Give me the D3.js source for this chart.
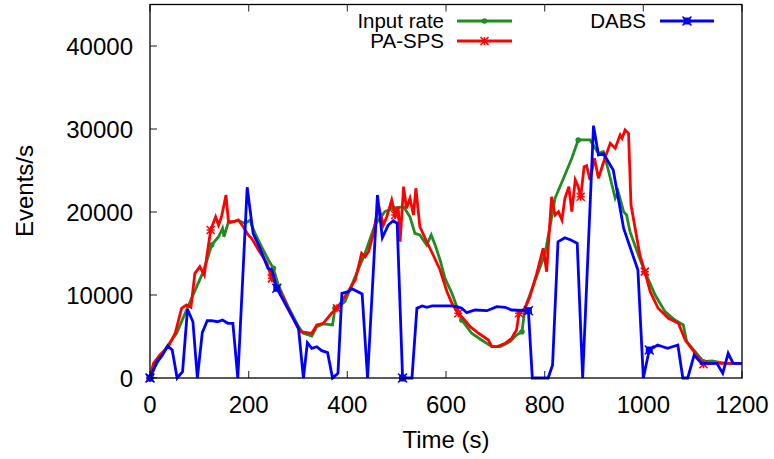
<!DOCTYPE html>
<html>
<head>
<meta charset="utf-8">
<script src="https://cdn.jsdelivr.net/npm/d3@7"></script>
<style>
  body { margin: 0; background: #fff; }
  text { font-family: "Liberation Sans", Arial, sans-serif; fill: #000; }
</style>
</head>
<body>
<div id="chart"></div>
<script>
// Data (time in s, rate in events/s)
var inputT = [0,10,34,54,74,108,125,139,147,150,158,169,179,193,203,206,213,226,240,250,260,280,301,311,328,338,351,370,375,395,416,436,456,476,493,514,527,537,547,561,570,578,588,598,612,632,652,672,693,710,730,743,754,760,781,801,821,841,855,868,892,909,919,929,943,949,960,966,973,990,1003,1024,1044,1064,1081,1088,1105,1122,1139,1166,1200];
var inputV = [0,1360,3770,5390,8190,12810,16020,17020,18040,17020,18640,18830,18950,18640,19040,18430,17430,15820,14220,13220,11210,8590,6180,5390,5060,6180,6510,6390,8400,9190,12210,15020,18430,20040,20450,20640,19430,17430,17230,16020,17230,16020,14220,12000,10210,6990,5390,4580,3770,3770,4370,5180,5580,8400,11810,15020,21650,24460,26470,28680,28680,27070,27270,25060,21650,22450,20040,19640,17630,14820,12810,10000,7990,6990,6390,4370,3170,1960,2050,1770,1770];

var spsT = [0,7,20,37,51,64,74,83,91,101,110,115,123,133,139,145,154,159,169,179,189,199,206,220,237,247,260,304,328,338,351,368,379,395,416,429,436,443,453,463,473,480,490,497,503,507,514,520,527,534,539,547,561,574,588,602,612,625,635,649,666,686,693,703,720,733,743,748,760,770,784,797,804,814,821,828,835,841,849,855,862,868,873,880,885,892,901,909,922,933,943,953,957,963,970,975,987,993,1003,1014,1030,1051,1071,1085,1105,1122,1139,1200];
var spsV = [0,1770,2770,3770,5390,8400,8800,8520,12610,13410,12410,14610,17830,19430,18430,19430,22050,18830,18830,19040,18230,17230,16830,15420,13820,12010,10810,5580,5390,6390,6590,7800,8400,9800,11810,15020,14610,15220,17430,20840,18430,19430,21450,19640,20640,16420,23050,20450,21650,19640,22860,18230,16420,14820,13010,10400,9000,7800,7190,6180,5390,4580,3770,3770,4180,4780,5780,7800,8400,9800,12610,15630,12810,21840,19640,20040,19040,21650,23050,20040,23860,23050,21840,25460,25580,23860,26470,24060,26470,28280,27680,29280,28880,29880,29480,20840,16830,14820,12810,10400,8400,7190,6590,4580,2980,1650,1770,1770];

var dabsT = [0,14,24,36,45,55,66,76,87,96,106,116,125,137,147,158,168,178,197,209,223,239,247,257,301,311,319,328,338,348,360,370,381,389,402,409,430,441,461,471,483,493,501,512,531,541,552,561,572,608,622,632,642,659,683,703,720,733,767,775,807,816,827,841,853,866,877,899,909,919,939,960,989,1000,1012,1029,1049,1070,1080,1090,1103,1118,1149,1161,1172,1182,1200];
var dabsV = [0,1960,2650,3860,3370,0,760,8280,6780,0,5460,6900,6900,6780,6990,6590,6590,0,22980,17430,15630,13220,13010,10810,5990,0,4250,3580,3770,3290,3050,0,570,10200,10400,10760,10120,0,22050,16900,18430,18950,18640,0,0,8400,8680,8520,8680,8680,8590,8400,7870,8190,8110,8590,8520,8190,8110,0,0,1570,16420,16900,16630,16230,0,30400,26870,27070,25060,18040,13010,0,3370,3980,3580,3980,0,0,2770,1770,1770,570,2980,1770,1770];

var xTicks = [0,200,400,600,800,1000,1200];
var yTicks = [0,10000,20000,30000,40000];
var pointTimes = [0,125,250,375,500,625,750,875,1000,1125];
var dabsPointTimes = [0,255,510,765,1012];

var w = 774, h = 459;
var svg = d3.select("#chart").append("svg")
  .attr("width", w)
  .attr("height", h);

var x = d3.scaleLinear().domain([0, 1200]).range([150, 742]);
var y = d3.scaleLinear().domain([0, 45000]).range([378, 4.5]);

// ticks (inward), mirrored on top
svg.selectAll("ytick").data(yTicks).enter().append("line")
  .attr("x1", 150).attr("x2", 157)
  .attr("y1", function(d) { return y(d); }).attr("y2", function(d) { return y(d); })
  .attr("stroke", "#444").attr("stroke-width", 1.2);
svg.selectAll("xtick").data(xTicks).enter().append("line")
  .attr("x1", function(d) { return x(d); }).attr("x2", function(d) { return x(d); })
  .attr("y1", 378).attr("y2", 371)
  .attr("stroke", "#444").attr("stroke-width", 1.2);
svg.selectAll("xtick2").data(xTicks).enter().append("line")
  .attr("x1", function(d) { return x(d); }).attr("x2", function(d) { return x(d); })
  .attr("y1", 4.5).attr("y2", 11.5)
  .attr("stroke", "#444").attr("stroke-width", 1.2);

// tick labels
svg.selectAll("ylab").data(yTicks).enter().append("text")
  .attr("x", 133).attr("y", function(d) { return y(d); })
  .attr("dy", "0.36em")
  .attr("text-anchor", "end")
  .attr("font-size", "24px")
  .text(function(d) { return d; });
svg.selectAll("xlab").data(xTicks).enter().append("text")
  .attr("x", function(d) { return x(d); }).attr("y", 413)
  .attr("text-anchor", "middle")
  .attr("font-size", "24px")
  .text(function(d) { return d; });

// axis titles
svg.append("text")
  .attr("x", 446).attr("y", 448)
  .attr("text-anchor", "middle")
  .attr("font-size", "24px")
  .text("Time (s)");
svg.append("text")
  .attr("transform", "translate(33,191) rotate(-90)")
  .attr("text-anchor", "middle")
  .attr("font-size", "24px")
  .text("Events/s");

function zip(ts, vs) {
  return ts.map(function(t, i) { return [t, vs[i]]; });
}
function nearest(data, times) {
  return times.map(function(t) {
    return data.reduce(function(a, b) { return Math.abs(b[0] - t) < Math.abs(a[0] - t) ? b : a; });
  });
}

var line = d3.line()
  .x(function(d) { return x(d[0]); })
  .y(function(d) { return y(d[1]); });

var series = [
  {name: "Input rate", data: zip(inputT, inputV), color: "#228b22", pts: pointTimes, mark: "dot"},
  {name: "PA-SPS", data: zip(spsT, spsV), color: "#ff0000", pts: pointTimes, mark: "star"},
  {name: "DABS", data: zip(dabsT, dabsV), color: "#0000ff", pts: dabsPointTimes, mark: "box"}
];

function drawMark(g, cx, cy, s) {
  if (s.mark == "dot") {
    g.append("circle").attr("cx", cx).attr("cy", cy).attr("r", 2.8).attr("fill", s.color);
  } else if (s.mark == "star") {
    var r = 4;
    g.append("path")
      .attr("d", "M" + (cx - r) + "," + (cy - r) + "L" + (cx + r) + "," + (cy + r) +
                 "M" + (cx - r) + "," + (cy + r) + "L" + (cx + r) + "," + (cy - r) +
                 "M" + (cx - r) + "," + cy + "L" + (cx + r) + "," + cy +
                 "M" + cx + "," + (cy - r) + "L" + cx + "," + (cy + r))
      .attr("stroke", s.color).attr("stroke-width", 1.6).attr("fill", "none");
  } else {
    g.append("rect").attr("x", cx - 3.5).attr("y", cy - 3.5).attr("width", 7).attr("height", 7)
      .attr("fill", s.color);
    g.append("path")
      .attr("d", "M" + (cx - 4.5) + "," + (cy - 4.5) + "L" + (cx + 4.5) + "," + (cy + 4.5) +
                 "M" + (cx - 4.5) + "," + (cy + 4.5) + "L" + (cx + 4.5) + "," + (cy - 4.5))
      .attr("stroke", s.color).attr("stroke-width", 1.5);
  }
}

series.forEach(function(s) {
  var g = svg.append("g");
  g.append("path")
    .datum(s.data)
    .attr("d", line)
    .attr("fill", "none")
    .attr("stroke", s.color)
    .attr("stroke-width", 2.8)
    .attr("stroke-linejoin", "miter");
  nearest(s.data, s.pts).forEach(function(d) {
    drawMark(g, x(d[0]), y(d[1]), s);
  });
});

// frame
svg.append("rect")
  .attr("x", 150).attr("y", 4.5)
  .attr("width", 592).attr("height", 373.5)
  .attr("fill", "none").attr("stroke", "#000").attr("stroke-width", 1.3);

// legend
var legend = [
  {s: series[0], tx: 444, ty: 28, x1: 457, x2: 512, ly: 21},
  {s: series[1], tx: 444, ty: 48, x1: 457, x2: 512, ly: 41},
  {s: series[2], tx: 646, ty: 28, x1: 660, x2: 714, ly: 21}
];
legend.forEach(function(l) {
  svg.append("text")
    .attr("x", l.tx).attr("y", l.ty)
    .attr("text-anchor", "end")
    .attr("font-size", "20.5px")
    .text(l.s.name);
  svg.append("line")
    .attr("x1", l.x1).attr("x2", l.x2)
    .attr("y1", l.ly).attr("y2", l.ly)
    .attr("stroke", l.s.color).attr("stroke-width", 2.8);
  drawMark(svg, (l.x1 + l.x2) / 2, l.ly, l.s);
});
</script>
</body>
</html>
